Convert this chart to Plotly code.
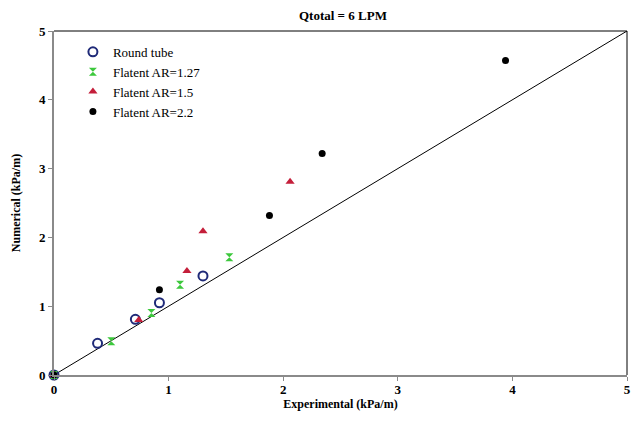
import plotly.graph_objects as go

round_x = [0, 0.38, 0.71, 0.92, 1.30]
round_y = [0, 0.46, 0.81, 1.05, 1.44]
ar127_x = [0, 0.50, 0.85, 1.10, 1.53]
ar127_y = [0, 0.49, 0.90, 1.31, 1.71]
ar15_x = [0, 0.74, 1.16, 1.30, 2.06]
ar15_y = [0, 0.80, 1.51, 2.09, 2.81]
ar22_x = [0, 0.92, 1.88, 2.34, 3.94]
ar22_y = [0, 1.24, 2.32, 3.22, 4.57]
line_xy = [0, 5]

font = "Liberation Serif"
fig = go.Figure()
fig.add_trace(go.Scatter(x=line_xy, y=line_xy, mode="lines", line=dict(color="black", width=1),
                         showlegend=False, hoverinfo="skip"))
fig.add_trace(go.Scatter(x=round_x, y=round_y, mode="markers", name="Round tube", cliponaxis=False,
                         marker=dict(symbol="circle-open", size=9, color="#1F2A78", line=dict(width=2, color="#1F2A78"))))
fig.add_trace(go.Scatter(x=ar127_x, y=ar127_y, mode="markers", name="Flatent AR=1.27", cliponaxis=False,
                         marker=dict(symbol="hourglass", size=8, color="#3CC83C")))
fig.add_trace(go.Scatter(x=ar15_x, y=ar15_y, mode="markers", name="Flatent AR=1.5", cliponaxis=False,
                         marker=dict(symbol="triangle-up", size=8, color="#C41E3A")))
fig.add_trace(go.Scatter(x=ar22_x, y=ar22_y, mode="markers", name="Flatent AR=2.2", cliponaxis=False,
                         marker=dict(symbol="circle", size=7, color="black")))

axis_common = dict(range=[0, 5], dtick=1, showgrid=False, zeroline=False, showline=True, automargin=False,
                   linecolor="#8A8A8A", linewidth=2, ticks="outside", ticklen=4, tickcolor="#8A8A8A",
                   tickwidth=1, tickfont=dict(family=font, size=13, color="black", weight="bold"))
fig.update_xaxes(**axis_common, ticklabelstandoff=-3,
                 title=dict(text="<b>Experimental (kPa/m)</b>",
                            font=dict(family=font, size=12, color="black"), standoff=2))
fig.update_yaxes(**axis_common, title=dict(text="<b>Numerical (kPa/m)</b>",
                 font=dict(family=font, size=12, color="black"), standoff=16))

fig.add_shape(type="line", xref="paper", yref="paper", x0=0, x1=1, y0=1, y1=1, line=dict(color="black", width=1))
fig.add_shape(type="line", xref="paper", yref="paper", x0=1, x1=1, y0=0, y1=1, line=dict(color="black", width=1))

fig.update_layout(
    width=632, height=413,
    margin=dict(l=46, r=13, t=23, b=46, autoexpand=False),
    plot_bgcolor="white", paper_bgcolor="white",
    title=dict(text="<b>Qtotal = 6 LPM</b>", x=0.53, xanchor="center", y=0.981, yanchor="middle",
               font=dict(family=font, size=13, color="black")),
    legend=dict(x=0.033, y=0.983, xanchor="left", yanchor="top", bgcolor="rgba(0,0,0,0)",
                font=dict(family=font, size=13, color="black"), itemwidth=30, tracegroupgap=0),
)
fig.write_html("out.html")
